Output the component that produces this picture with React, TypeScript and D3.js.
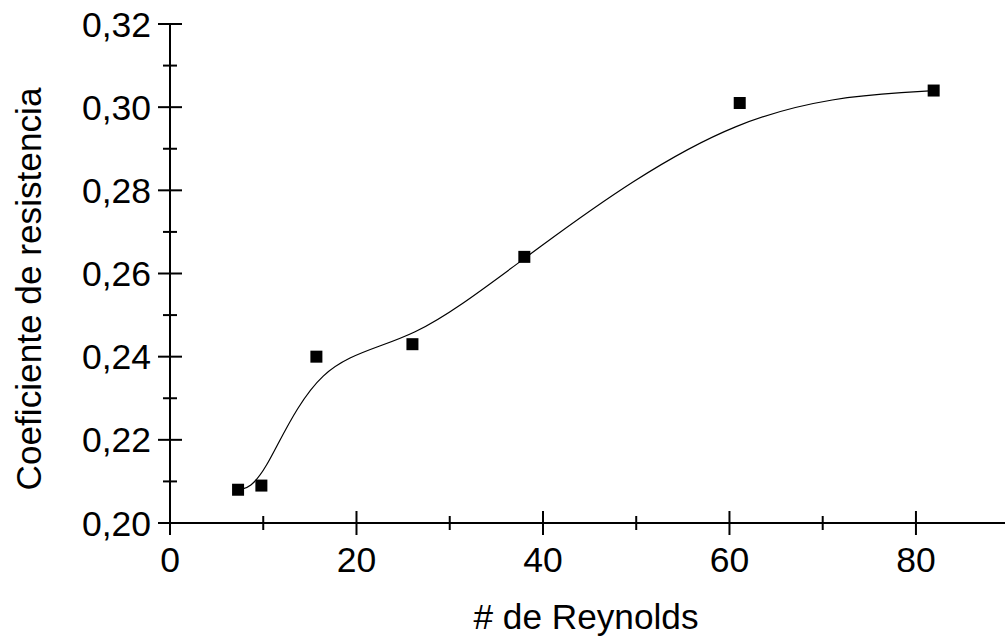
import React from "react";
import * as d3 from "d3";

const reynolds = [7.3, 9.8, 15.7, 26.0, 38.0, 61.1, 81.9];
const coeficiente = [0.208, 0.209, 0.24, 0.243, 0.264, 0.301, 0.304];
const xMajorTicks = [0, 20, 40, 60, 80];
const xMinorTicks = [10, 30, 50, 70];
const yMajorTicks = [0.2, 0.22, 0.24, 0.26, 0.28, 0.3, 0.32];
const yMinorTicks = [0.21, 0.23, 0.25, 0.27, 0.29, 0.31];
const xTitle = "# de Reynolds";
const yTitle = "Coeficiente de resistencia";

export default function App() {
  const W = 1005;
  const H = 638;
  const x = d3.scaleLinear().domain([0, 89.55]).range([170, 1005]);
  const y = d3.scaleLinear().domain([0.2, 0.32]).range([523, 24]);
  const pts: [number, number][] = reynolds.map((r, i) => [r, coeficiente[i]]);
  const line = d3
    .line<[number, number]>()
    .x((d) => x(d[0]))
    .y((d) => y(d[1]))
    .curve(d3.curveBasis);
  const font = "Liberation Sans, Arial, sans-serif";
  const fs = 35.5;
  const fsTitle = 35.2;
  const major = 12;
  const minor = 7;
  const sw = 2;
  return (
    <svg
      width={W}
      height={H}
      style={{ position: "absolute", left: 0, top: 0, background: "#fff" }}
      fontFamily={font}
    >
      <rect width={W} height={H} fill="#fff" />
      {/* axes */}
      <line x1={x(0)} x2={W} y1={y(0.2)} y2={y(0.2)} stroke="#000" strokeWidth={sw} />
      <line x1={x(0)} x2={x(0)} y1={y(0.2)} y2={y(0.32)} stroke="#000" strokeWidth={sw} />
      {xMajorTicks.map((t) => (
        <g key={"xM" + t}>
          <line x1={x(t)} x2={x(t)} y1={y(0.2) - major} y2={y(0.2) + major} stroke="#000" strokeWidth={sw} />
          <text x={x(t)} y={572} textAnchor="middle" fontSize={fs}>
            {t}
          </text>
        </g>
      ))}
      {xMinorTicks.map((t) => (
        <line key={"xm" + t} x1={x(t)} x2={x(t)} y1={y(0.2) - minor} y2={y(0.2) + minor} stroke="#000" strokeWidth={sw} />
      ))}
      {yMajorTicks.map((t) => (
        <g key={"yM" + t}>
          <line x1={x(0) - major} x2={x(0) + major} y1={y(t)} y2={y(t)} stroke="#000" strokeWidth={sw} />
          <text x={151} y={y(t) + 12.5} textAnchor="end" fontSize={fs}>
            {d3.format(".2f")(t).replace(".", ",")}
          </text>
        </g>
      ))}
      {yMinorTicks.map((t) => (
        <line key={"ym" + t} x1={x(0) - minor} x2={x(0) + minor} y1={y(t)} y2={y(t)} stroke="#000" strokeWidth={sw} />
      ))}
      {/* fitted curve */}
      <path d={line(pts) ?? ""} fill="none" stroke="#000" strokeWidth={1.2} />
      {/* points */}
      {pts.map((d, i) => (
        <rect key={i} x={x(d[0]) - 6} y={y(d[1]) - 6} width={12} height={12} fill="#000" />
      ))}
      {/* titles */}
      <text x={586} y={629} textAnchor="middle" fontSize={fsTitle}>
        {xTitle}
      </text>
      <text
        transform={`translate(41, 289) rotate(-90)`}
        textAnchor="middle"
        fontSize={fsTitle}
      >
        {yTitle}
      </text>
    </svg>
  );
}
